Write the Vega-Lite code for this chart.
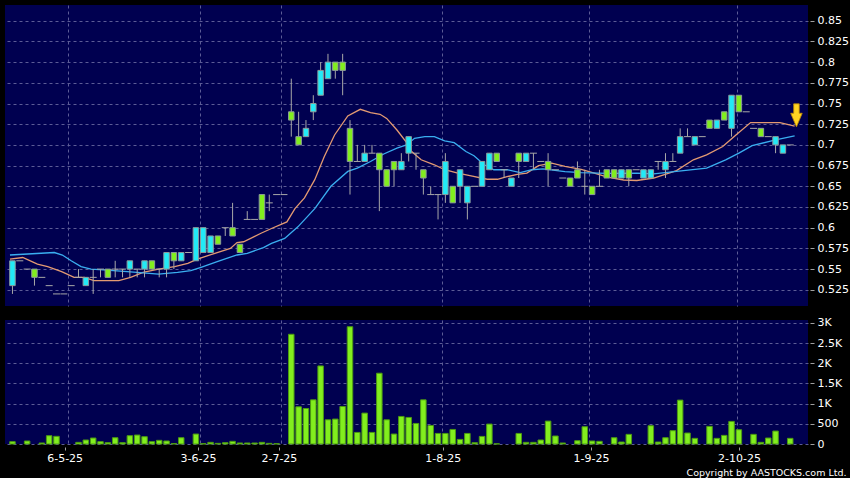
{
"$schema": "https://vega.github.io/schema/vega-lite/v6.json",
"background": "#000000",
"padding": {"left": 5, "top": 5, "right": 6, "bottom": 4},
"spacing": 10,
"config": {
  "view": {"fill": "#000050", "stroke": null},
  "axis": {"labelColor": "#ffffff", "labelFont": "DejaVu Sans", "labelFontSize": 11, "tickColor": "#a0a0a0", "gridColor": "#5c5c96", "gridDash": [3, 3], "gridOpacity": 1, "gridWidth": 1, "domain": false}
},
"datasets": {
  "k": [
{"i":0,"o":0.53,"h":0.56,"l":0.52,"c":0.56,"v":58},
{"i":1,"o":0.56,"h":0.56,"l":0.56,"c":0.56,"v":0},
{"i":2,"o":0.55,"h":0.55,"l":0.55,"c":0.55,"v":74},
{"i":3,"o":0.55,"h":0.55,"l":0.53,"c":0.54,"v":0},
{"i":4,"o":0.54,"h":0.54,"l":0.54,"c":0.54,"v":25},
{"i":5,"o":0.53,"h":0.53,"l":0.53,"c":0.53,"v":206},
{"i":6,"o":0.52,"h":0.52,"l":0.52,"c":0.52,"v":190},
{"i":7,"o":0.52,"h":0.52,"l":0.52,"c":0.52,"v":0},
{"i":8,"o":0.53,"h":0.53,"l":0.53,"c":0.53,"v":0},
{"i":9,"o":0.54,"h":0.55,"l":0.54,"c":0.54,"v":41},
{"i":10,"o":0.53,"h":0.54,"l":0.53,"c":0.54,"v":99},
{"i":11,"o":0.54,"h":0.55,"l":0.52,"c":0.54,"v":148},
{"i":12,"o":0.55,"h":0.55,"l":0.54,"c":0.55,"v":58},
{"i":13,"o":0.55,"h":0.55,"l":0.54,"c":0.54,"v":33},
{"i":14,"o":0.55,"h":0.56,"l":0.54,"c":0.55,"v":156},
{"i":15,"o":0.55,"h":0.55,"l":0.54,"c":0.55,"v":33},
{"i":16,"o":0.55,"h":0.56,"l":0.54,"c":0.56,"v":206},
{"i":17,"o":0.55,"h":0.55,"l":0.54,"c":0.55,"v":222},
{"i":18,"o":0.55,"h":0.56,"l":0.54,"c":0.56,"v":181},
{"i":19,"o":0.56,"h":0.56,"l":0.55,"c":0.55,"v":58},
{"i":20,"o":0.55,"h":0.55,"l":0.54,"c":0.55,"v":91},
{"i":21,"o":0.55,"h":0.57,"l":0.54,"c":0.57,"v":74},
{"i":22,"o":0.57,"h":0.57,"l":0.55,"c":0.56,"v":10},
{"i":23,"o":0.56,"h":0.57,"l":0.56,"c":0.57,"v":156},
{"i":24,"o":0.57,"h":0.57,"l":0.57,"c":0.57,"v":0},
{"i":25,"o":0.56,"h":0.60,"l":0.56,"c":0.60,"v":247},
{"i":26,"o":0.57,"h":0.60,"l":0.57,"c":0.60,"v":8},
{"i":27,"o":0.57,"h":0.59,"l":0.57,"c":0.59,"v":41},
{"i":28,"o":0.59,"h":0.59,"l":0.58,"c":0.58,"v":16},
{"i":29,"o":0.60,"h":0.60,"l":0.59,"c":0.60,"v":33},
{"i":30,"o":0.60,"h":0.63,"l":0.59,"c":0.59,"v":66},
{"i":31,"o":0.58,"h":0.58,"l":0.57,"c":0.57,"v":25},
{"i":32,"o":0.61,"h":0.62,"l":0.61,"c":0.61,"v":25},
{"i":33,"o":0.61,"h":0.61,"l":0.61,"c":0.61,"v":25},
{"i":34,"o":0.64,"h":0.64,"l":0.61,"c":0.61,"v":41},
{"i":35,"o":0.63,"h":0.64,"l":0.62,"c":0.63,"v":16},
{"i":36,"o":0.64,"h":0.64,"l":0.64,"c":0.64,"v":8},
{"i":37,"o":0.64,"h":0.64,"l":0.64,"c":0.64,"v":0},
{"i":38,"o":0.74,"h":0.78,"l":0.71,"c":0.73,"v":2720},
{"i":39,"o":0.71,"h":0.74,"l":0.70,"c":0.70,"v":922},
{"i":40,"o":0.71,"h":0.73,"l":0.71,"c":0.72,"v":880},
{"i":41,"o":0.74,"h":0.76,"l":0.73,"c":0.75,"v":1095},
{"i":42,"o":0.76,"h":0.80,"l":0.76,"c":0.79,"v":1935},
{"i":43,"o":0.78,"h":0.81,"l":0.78,"c":0.80,"v":600},
{"i":44,"o":0.80,"h":0.80,"l":0.78,"c":0.79,"v":618},
{"i":45,"o":0.80,"h":0.81,"l":0.76,"c":0.79,"v":930},
{"i":46,"o":0.72,"h":0.73,"l":0.64,"c":0.68,"v":2907},
{"i":47,"o":0.68,"h":0.70,"l":0.68,"c":0.68,"v":287},
{"i":48,"o":0.68,"h":0.70,"l":0.68,"c":0.69,"v":766},
{"i":49,"o":0.69,"h":0.70,"l":0.69,"c":0.69,"v":287},
{"i":50,"o":0.69,"h":0.69,"l":0.62,"c":0.67,"v":1755},
{"i":51,"o":0.67,"h":0.67,"l":0.65,"c":0.65,"v":600},
{"i":52,"o":0.68,"h":0.68,"l":0.65,"c":0.67,"v":247},
{"i":53,"o":0.67,"h":0.69,"l":0.67,"c":0.68,"v":683},
{"i":54,"o":0.69,"h":0.71,"l":0.68,"c":0.71,"v":658},
{"i":55,"o":0.69,"h":0.69,"l":0.67,"c":0.69,"v":509},
{"i":56,"o":0.67,"h":0.67,"l":0.64,"c":0.66,"v":1095},
{"i":57,"o":0.64,"h":0.65,"l":0.64,"c":0.64,"v":460},
{"i":58,"o":0.64,"h":0.64,"l":0.61,"c":0.64,"v":262},
{"i":59,"o":0.64,"h":0.69,"l":0.63,"c":0.68,"v":262},
{"i":60,"o":0.65,"h":0.65,"l":0.63,"c":0.63,"v":361},
{"i":61,"o":0.65,"h":0.67,"l":0.63,"c":0.67,"v":114},
{"i":62,"o":0.63,"h":0.65,"l":0.61,"c":0.65,"v":262},
{"i":63,"o":0.65,"h":0.65,"l":0.65,"c":0.65,"v":33},
{"i":64,"o":0.65,"h":0.68,"l":0.65,"c":0.68,"v":188},
{"i":65,"o":0.67,"h":0.69,"l":0.67,"c":0.69,"v":494},
{"i":66,"o":0.69,"h":0.69,"l":0.68,"c":0.68,"v":5},
{"i":67,"o":0.67,"h":0.67,"l":0.66,"c":0.67,"v":0},
{"i":68,"o":0.65,"h":0.66,"l":0.65,"c":0.66,"v":0},
{"i":69,"o":0.69,"h":0.69,"l":0.66,"c":0.68,"v":262},
{"i":70,"o":0.68,"h":0.69,"l":0.68,"c":0.69,"v":41},
{"i":71,"o":0.69,"h":0.69,"l":0.67,"c":0.69,"v":41},
{"i":72,"o":0.68,"h":0.68,"l":0.68,"c":0.68,"v":99},
{"i":73,"o":0.68,"h":0.69,"l":0.65,"c":0.67,"v":568},
{"i":74,"o":0.67,"h":0.67,"l":0.67,"c":0.67,"v":198},
{"i":75,"o":0.66,"h":0.66,"l":0.66,"c":0.66,"v":25},
{"i":76,"o":0.66,"h":0.66,"l":0.65,"c":0.65,"v":0},
{"i":77,"o":0.67,"h":0.68,"l":0.66,"c":0.66,"v":82},
{"i":78,"o":0.65,"h":0.67,"l":0.64,"c":0.65,"v":428},
{"i":79,"o":0.65,"h":0.65,"l":0.64,"c":0.64,"v":74},
{"i":80,"o":0.65,"h":0.67,"l":0.65,"c":0.65,"v":66},
{"i":81,"o":0.67,"h":0.67,"l":0.66,"c":0.66,"v":0},
{"i":82,"o":0.67,"h":0.67,"l":0.66,"c":0.66,"v":156},
{"i":83,"o":0.66,"h":0.67,"l":0.66,"c":0.67,"v":49},
{"i":84,"o":0.67,"h":0.67,"l":0.65,"c":0.66,"v":239},
{"i":85,"o":0.67,"h":0.67,"l":0.67,"c":0.67,"v":0},
{"i":86,"o":0.66,"h":0.67,"l":0.66,"c":0.67,"v":0},
{"i":87,"o":0.66,"h":0.67,"l":0.66,"c":0.67,"v":453},
{"i":88,"o":0.68,"h":0.68,"l":0.67,"c":0.68,"v":49},
{"i":89,"o":0.67,"h":0.69,"l":0.66,"c":0.68,"v":156},
{"i":90,"o":0.68,"h":0.69,"l":0.68,"c":0.68,"v":330},
{"i":91,"o":0.69,"h":0.72,"l":0.69,"c":0.71,"v":1088},
{"i":92,"o":0.71,"h":0.72,"l":0.71,"c":0.71,"v":272},
{"i":93,"o":0.70,"h":0.71,"l":0.70,"c":0.71,"v":140},
{"i":94,"o":0.71,"h":0.71,"l":0.71,"c":0.71,"v":0},
{"i":95,"o":0.73,"h":0.73,"l":0.72,"c":0.72,"v":437},
{"i":96,"o":0.72,"h":0.73,"l":0.72,"c":0.73,"v":140},
{"i":97,"o":0.74,"h":0.74,"l":0.73,"c":0.73,"v":214},
{"i":98,"o":0.72,"h":0.76,"l":0.71,"c":0.76,"v":560},
{"i":99,"o":0.76,"h":0.76,"l":0.74,"c":0.74,"v":354},
{"i":100,"o":0.74,"h":0.74,"l":0.74,"c":0.74,"v":0},
{"i":101,"o":0.72,"h":0.72,"l":0.72,"c":0.72,"v":239},
{"i":102,"o":0.72,"h":0.72,"l":0.71,"c":0.71,"v":41},
{"i":103,"o":0.71,"h":0.71,"l":0.71,"c":0.71,"v":148},
{"i":104,"o":0.70,"h":0.71,"l":0.69,"c":0.71,"v":321},
{"i":105,"o":0.69,"h":0.70,"l":0.69,"c":0.70,"v":0},
{"i":106,"o":0.70,"h":0.70,"l":0.70,"c":0.70,"v":140}
  ],
  "ma": [
{"s":"a","i":-0.34,"v":0.562},{"s":"a","i":1.4,"v":0.564},{"s":"a","i":3.4,"v":0.556},{"s":"a","i":4.8,"v":0.553},{"s":"a","i":6.7,"v":0.547},{"s":"a","i":8.4,"v":0.540},{"s":"a","i":9.8,"v":0.540},{"s":"a","i":11.1,"v":0.536},{"s":"a","i":14.5,"v":0.536},{"s":"a","i":16.1,"v":0.540},{"s":"a","i":17.8,"v":0.546},{"s":"a","i":19.9,"v":0.550},{"s":"a","i":22.1,"v":0.553},{"s":"a","i":23.9,"v":0.557},{"s":"a","i":25.2,"v":0.562},{"s":"a","i":27.9,"v":0.570},{"s":"a","i":29.7,"v":0.575},{"s":"a","i":30.6,"v":0.582},{"s":"a","i":31.5,"v":0.583},{"s":"a","i":33.8,"v":0.593},{"s":"a","i":35.3,"v":0.599},{"s":"a","i":37.4,"v":0.607},{"s":"a","i":38.5,"v":0.623},{"s":"a","i":39.8,"v":0.636},{"s":"a","i":41.2,"v":0.658},{"s":"a","i":42.5,"v":0.686},{"s":"a","i":43.9,"v":0.712},{"s":"a","i":45.7,"v":0.735},{"s":"a","i":47.4,"v":0.743},{"s":"a","i":48.8,"v":0.739},{"s":"a","i":50.1,"v":0.737},{"s":"a","i":51.0,"v":0.732},{"s":"a","i":52.4,"v":0.718},{"s":"a","i":53.7,"v":0.703},{"s":"a","i":54.4,"v":0.692},{"s":"a","i":55.7,"v":0.682},{"s":"a","i":57.5,"v":0.676},{"s":"a","i":58.9,"v":0.670},{"s":"a","i":60.7,"v":0.666},{"s":"a","i":62.5,"v":0.6625},{"s":"a","i":64.7,"v":0.6585},{"s":"a","i":66.1,"v":0.6585},{"s":"a","i":67.4,"v":0.6616},{"s":"a","i":68.8,"v":0.6645},{"s":"a","i":70.1,"v":0.666},{"s":"a","i":71.7,"v":0.675},{"s":"a","i":73.5,"v":0.678},{"s":"a","i":75.3,"v":0.674},{"s":"a","i":77.5,"v":0.6705},{"s":"a","i":79.3,"v":0.666},{"s":"a","i":81.1,"v":0.661},{"s":"a","i":83.3,"v":0.6576},{"s":"a","i":85.1,"v":0.657},{"s":"a","i":87.4,"v":0.660},{"s":"a","i":90.5,"v":0.669},{"s":"a","i":92.8,"v":0.682},{"s":"a","i":94.6,"v":0.688},{"s":"a","i":96.8,"v":0.698},{"s":"a","i":98.6,"v":0.712},{"s":"a","i":100.6,"v":0.727},{"s":"a","i":102.2,"v":0.727},{"s":"a","i":104.6,"v":0.727},{"s":"a","i":106.6,"v":0.7228},
{"s":"b","i":-0.34,"v":0.567},{"s":"b","i":5.7,"v":0.570},{"s":"b","i":6.8,"v":0.567},{"s":"b","i":8.0,"v":0.560},{"s":"b","i":9.35,"v":0.553},{"s":"b","i":10.7,"v":0.550},{"s":"b","i":12.4,"v":0.549},{"s":"b","i":16.1,"v":0.5465},{"s":"b","i":17.8,"v":0.5455},{"s":"b","i":19.9,"v":0.544},{"s":"b","i":22.5,"v":0.546},{"s":"b","i":24.3,"v":0.548},{"s":"b","i":25.7,"v":0.552},{"s":"b","i":27.9,"v":0.559},{"s":"b","i":30.6,"v":0.567},{"s":"b","i":32.0,"v":0.569},{"s":"b","i":34.2,"v":0.576},{"s":"b","i":35.3,"v":0.581},{"s":"b","i":37.1,"v":0.587},{"s":"b","i":38.9,"v":0.601},{"s":"b","i":41.2,"v":0.623},{"s":"b","i":43.4,"v":0.650},{"s":"b","i":45.7,"v":0.668},{"s":"b","i":47.0,"v":0.672},{"s":"b","i":48.8,"v":0.680},{"s":"b","i":50.6,"v":0.689},{"s":"b","i":52.4,"v":0.696},{"s":"b","i":53.7,"v":0.700},{"s":"b","i":54.8,"v":0.708},{"s":"b","i":56.2,"v":0.710},{"s":"b","i":57.5,"v":0.710},{"s":"b","i":58.9,"v":0.705},{"s":"b","i":60.2,"v":0.7027},{"s":"b","i":61.8,"v":0.692},{"s":"b","i":62.9,"v":0.687},{"s":"b","i":64.3,"v":0.676},{"s":"b","i":65.6,"v":0.670},{"s":"b","i":67.4,"v":0.670},{"s":"b","i":69.2,"v":0.6665},{"s":"b","i":70.8,"v":0.670},{"s":"b","i":72.3,"v":0.671},{"s":"b","i":75.3,"v":0.6677},{"s":"b","i":77.5,"v":0.6665},{"s":"b","i":81.1,"v":0.6655},{"s":"b","i":85.1,"v":0.666},{"s":"b","i":87.4,"v":0.665},{"s":"b","i":90.5,"v":0.668},{"s":"b","i":94.6,"v":0.672},{"s":"b","i":97.2,"v":0.682},{"s":"b","i":99.0,"v":0.690},{"s":"b","i":100.8,"v":0.699},{"s":"b","i":104.0,"v":0.706},{"s":"b","i":106.6,"v":0.7108}
  ],
  "arrow": [{"i": 106.85, "p": 0.7357}]
},
"vconcat": [
  {
    "width": 803,
    "height": 301,
    "layer": [
      {
        "data": {"name": "ma"},
        "mark": {"type": "line", "strokeWidth": 1.3},
        "encoding": {
          "x": {"field": "i", "type": "quantitative", "scale": {"domain": [-0.336, 107.74], "nice": false, "zero": false},
                "axis": {"values": [7.51, 25.6, 36.58, 58.52, 78.63, 98.68], "labels": false, "ticks": false, "domain": false, "grid": true, "title": null, "minExtent": 0, "maxExtent": 0}},
          "y": {"field": "v", "type": "quantitative", "scale": {"domain": [0.5054, 0.869], "nice": false, "zero": false},
                "axis": {"orient": "right", "values": [0.525, 0.55, 0.575, 0.6, 0.625, 0.65, 0.675, 0.7, 0.725, 0.75, 0.775, 0.8, 0.825, 0.85], "labelExpr": "'' + datum.value", "grid": true, "offset": 2, "tickSize": 4, "labelPadding": 3, "labelOverlap": false, "domain": false, "title": null}},
          "color": {"field": "s", "type": "nominal", "scale": {"domain": ["a", "b"], "range": ["#e39a72", "#3aaef0"]}, "legend": null}
        }
      },
      {
        "data": {"name": "k"},
        "mark": {"type": "rule", "color": "#a8a8a8", "strokeWidth": 1},
        "encoding": {
          "x": {"field": "i", "type": "quantitative", "scale": {"domain": [-0.336, 107.74], "nice": false, "zero": false},
                "axis": {"values": [7.51, 25.6, 36.58, 58.52, 78.63, 98.68], "labels": false, "ticks": false, "domain": false, "grid": true, "title": null, "minExtent": 0, "maxExtent": 0}},
          "y": {"field": "l", "type": "quantitative", "scale": {"domain": [0.5054, 0.869], "nice": false, "zero": false},
                "axis": {"orient": "right", "values": [0.525, 0.55, 0.575, 0.6, 0.625, 0.65, 0.675, 0.7, 0.725, 0.75, 0.775, 0.8, 0.825, 0.85], "labelExpr": "'' + datum.value", "grid": true, "offset": 2, "tickSize": 4, "labelPadding": 3, "labelOverlap": false, "domain": false, "title": null}},
          "y2": {"field": "h"}
        }
      },
      {
        "data": {"name": "k"},
        "transform": [{"filter": "datum.o != datum.c"}],
        "mark": {"type": "bar", "width": 5.5, "stroke": "#8c9a9a", "strokeWidth": 1},
        "encoding": {
          "x": {"field": "i", "type": "quantitative", "scale": {"domain": [-0.336, 107.74], "nice": false, "zero": false},
                "axis": {"values": [7.51, 25.6, 36.58, 58.52, 78.63, 98.68], "labels": false, "ticks": false, "domain": false, "grid": true, "title": null, "minExtent": 0, "maxExtent": 0}},
          "y": {"field": "o", "type": "quantitative", "scale": {"domain": [0.5054, 0.869], "nice": false, "zero": false},
                "axis": {"orient": "right", "values": [0.525, 0.55, 0.575, 0.6, 0.625, 0.65, 0.675, 0.7, 0.725, 0.75, 0.775, 0.8, 0.825, 0.85], "labelExpr": "'' + datum.value", "grid": true, "offset": 2, "tickSize": 4, "labelPadding": 3, "labelOverlap": false, "domain": false, "title": null}},
          "y2": {"field": "c"},
          "fill": {"condition": {"test": "datum.c > datum.o", "value": "#22eaf6"}, "value": "#82ee1e"}
        }
      },
      {
        "data": {"name": "k"},
        "transform": [{"filter": "datum.o == datum.c"}],
        "mark": {"type": "tick", "orient": "horizontal", "size": 7, "thickness": 1, "color": "#a8a8a8", "opacity": 1},
        "encoding": {
          "x": {"field": "i", "type": "quantitative", "scale": {"domain": [-0.336, 107.74], "nice": false, "zero": false},
                "axis": {"values": [7.51, 25.6, 36.58, 58.52, 78.63, 98.68], "labels": false, "ticks": false, "domain": false, "grid": true, "title": null, "minExtent": 0, "maxExtent": 0}},
          "y": {"field": "c", "type": "quantitative", "scale": {"domain": [0.5054, 0.869], "nice": false, "zero": false},
                "axis": {"orient": "right", "values": [0.525, 0.55, 0.575, 0.6, 0.625, 0.65, 0.675, 0.7, 0.725, 0.75, 0.775, 0.8, 0.825, 0.85], "labelExpr": "'' + datum.value", "grid": true, "offset": 2, "tickSize": 4, "labelPadding": 3, "labelOverlap": false, "domain": false, "title": null}}
        }
      },
      {
        "data": {"name": "arrow"},
        "mark": {"type": "point", "shape": "M -0.24 -1 L 0.24 -1 L 0.24 -0.18 L 0.5 -0.18 L 0 1 L -0.5 -0.18 L -0.24 -0.18 Z", "size": 530, "filled": true, "fill": "#ffd422", "stroke": "#c08a00", "strokeWidth": 0.8, "opacity": 1},
        "encoding": {
          "x": {"field": "i", "type": "quantitative", "scale": {"domain": [-0.336, 107.74], "nice": false, "zero": false},
                "axis": {"values": [7.51, 25.6, 36.58, 58.52, 78.63, 98.68], "labels": false, "ticks": false, "domain": false, "grid": true, "title": null, "minExtent": 0, "maxExtent": 0}},
          "y": {"field": "p", "type": "quantitative", "scale": {"domain": [0.5054, 0.869], "nice": false, "zero": false},
                "axis": {"orient": "right", "values": [0.525, 0.55, 0.575, 0.6, 0.625, 0.65, 0.675, 0.7, 0.725, 0.75, 0.775, 0.8, 0.825, 0.85], "labelExpr": "'' + datum.value", "grid": true, "offset": 2, "tickSize": 4, "labelPadding": 3, "labelOverlap": false, "domain": false, "title": null}}
        }
      }
    ]
  },
  {
    "width": 803,
    "height": 124,
    "resolve": {"axis": {"x": "independent"}},
    "layer": [
      {
        "data": {"name": "k"},
        "transform": [{"filter": "datum.v > 0"}],
        "mark": {"type": "bar", "width": 5.5, "fill": "#82ee1e", "stroke": "#4c9a12", "strokeWidth": 1},
        "encoding": {
          "x": {"field": "i", "type": "quantitative", "scale": {"domain": [-0.336, 107.74], "nice": false, "zero": false},
                "axis": {"orient": "bottom", "values": [7.51, 25.6, 36.58, 58.52, 78.63, 98.68], "labels": false, "ticks": false, "domain": false, "grid": true, "title": null, "minExtent": 0, "maxExtent": 0}},
          "y": {"field": "v", "type": "quantitative", "scale": {"domain": [0, 3074], "nice": false},
                "axis": {"orient": "right", "values": [0, 500, 1000, 1500, 2000, 2500, 3000], "labelExpr": "datum.value >= 1000 ? (datum.value / 1000) + 'K' : '' + datum.value", "grid": true, "offset": 2, "tickSize": 4, "labelPadding": 3, "labelOverlap": false, "domain": false, "title": null}}
        }
      },
      {
        "data": {"name": "k"},
        "mark": {"type": "tick", "opacity": 0},
        "encoding": {
          "x": {"field": "i", "type": "quantitative", "scale": {"domain": [-0.336, 107.74], "nice": false, "zero": false},
                "axis": {"orient": "bottom", "values": [7.11, 25.28, 36.31, 58.65, 78.84, 99.03], "labelExpr": "datum.value < 10 ? '6-5-25' : datum.value < 30 ? '3-6-25' : datum.value < 50 ? '2-7-25' : datum.value < 70 ? '1-8-25' : datum.value < 90 ? '1-9-25' : '2-10-25'", "grid": false, "ticks": true, "tickSize": 3, "offset": 3, "labelPadding": 2, "labelFlush": false, "labelOverlap": false, "domain": false,
                         "title": "Copyright by AASTOCKS.com Ltd.", "titleX": 841, "titleY": 28, "titleAlign": "right", "titleAnchor": "end", "titleBaseline": "alphabetic", "titleFont": "DejaVu Sans", "titleFontSize": 9.5, "titleFontWeight": "normal", "titleColor": "#ffffff"}},
          "y": {"field": "v", "type": "quantitative", "scale": {"domain": [0, 3074], "nice": false},
                "axis": {"orient": "right", "values": [0, 500, 1000, 1500, 2000, 2500, 3000], "labelExpr": "datum.value >= 1000 ? (datum.value / 1000) + 'K' : '' + datum.value", "grid": true, "offset": 2, "tickSize": 4, "labelPadding": 3, "labelOverlap": false, "domain": false, "title": null}}
        }
      }
    ]
  }
],
"resolve": {"scale": {"x": "independent", "y": "independent"}}
}
